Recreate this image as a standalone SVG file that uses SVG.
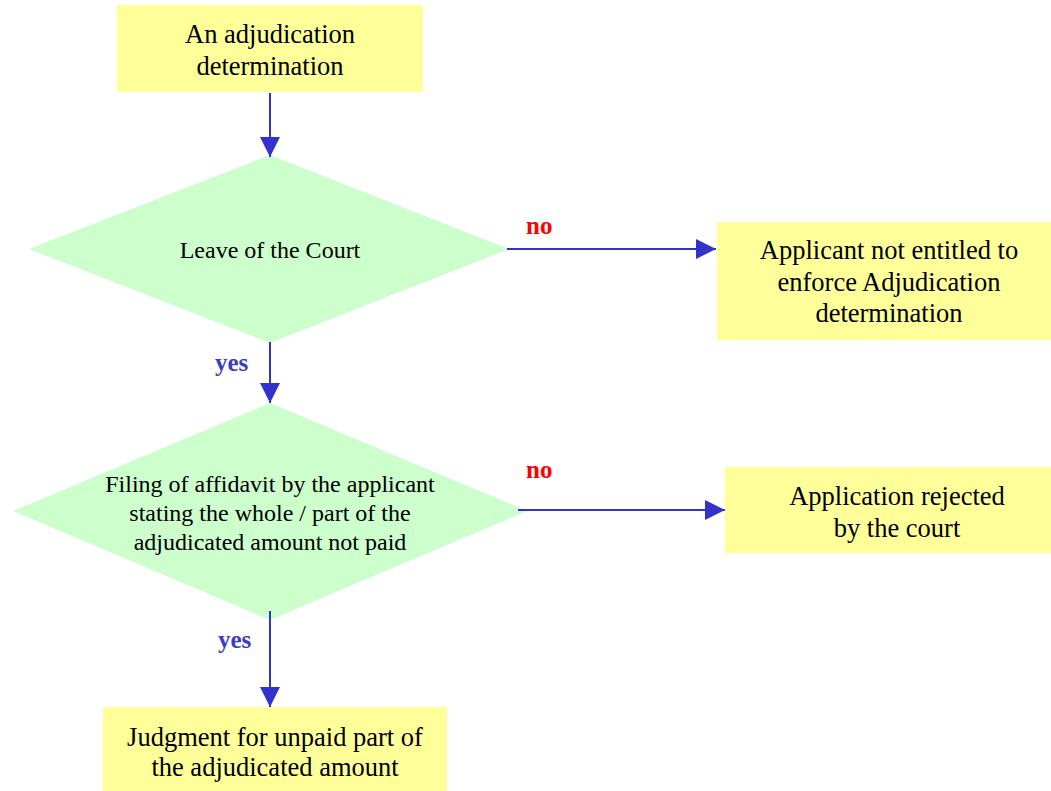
<svg xmlns="http://www.w3.org/2000/svg" width="1051" height="791" viewBox="0 0 1051 791">
  <defs>
    <style>
      .box { fill: #ffff99; }
      .decision { fill: #ccffcc; }
      .t-box { font-family: "Liberation Serif", "Times New Roman", serif; font-size: 26.5px; fill: #000; text-anchor: middle; }
      .t-dec { font-family: "Liberation Serif", "Times New Roman", serif; font-size: 24px; fill: #000; text-anchor: middle; }
      .lbl-no { font-family: "Liberation Serif", "Times New Roman", serif; font-size: 25px; font-weight: bold; fill: #ff0000; }
      .lbl-yes { font-family: "Liberation Serif", "Times New Roman", serif; font-size: 25px; font-weight: bold; fill: #3b3bcc; }
      .conn { stroke: #3333cc; stroke-width: 2; fill: none; marker-end: url(#arrow); }
    </style>
    <marker id="arrow" markerUnits="userSpaceOnUse" markerWidth="20" markerHeight="20" viewBox="0 0 20 20" refX="20" refY="10" orient="auto">
      <path d="M0,0 L20,10 L0,20 Z" fill="#3333cc"/>
    </marker>
  </defs>

  <rect width="1051" height="791" fill="#ffffff"/>

  <g id="start">
    <rect class="box" x="117" y="5" width="306" height="87"/>
    <text class="t-box" x="270" y="43">An adjudication</text>
    <text class="t-box" x="270" y="75">determination</text>
  </g>

  <g id="leave">
    <polygon class="decision" points="270,155 509,249 270,343 29,249"/>
    <text class="t-dec" x="270" y="258">Leave of the Court</text>
  </g>

  <g id="not-entitled">
    <rect class="box" x="717" y="222" width="334" height="118"/>
    <text class="t-box" x="889" y="259">Applicant not entitled to</text>
    <text class="t-box" x="889" y="291">enforce Adjudication</text>
    <text class="t-box" x="889" y="322">determination</text>
  </g>

  <g id="affidavit">
    <polygon class="decision" points="270,403 527,511 270,620 13,511"/>
    <text class="t-dec" x="270" y="492">Filing of affidavit by the applicant</text>
    <text class="t-dec" x="270" y="521">stating the whole / part of the</text>
    <text class="t-dec" x="270" y="550">adjudicated amount not paid</text>
  </g>

  <g id="rejected">
    <rect class="box" x="725" y="467" width="326" height="86"/>
    <text class="t-box" x="897" y="505">Application rejected</text>
    <text class="t-box" x="897" y="537">by the court</text>
  </g>

  <g id="judgment">
    <rect class="box" x="103" y="707" width="344" height="84"/>
    <text class="t-box" x="275" y="746">Judgment for unpaid part of</text>
    <text class="t-box" x="275" y="776">the adjudicated amount</text>
  </g>

  <g id="connectors">
    <line class="conn" x1="270" y1="93" x2="270" y2="157"/>
    <line class="conn" x1="507" y1="249" x2="716" y2="249"/>
    <text class="lbl-no" x="526" y="234">no</text>
    <line class="conn" x1="270" y1="342" x2="270" y2="403"/>
    <text class="lbl-yes" x="215" y="371">yes</text>
    <line class="conn" x1="518" y1="510" x2="725" y2="510"/>
    <text class="lbl-no" x="526" y="478">no</text>
    <line class="conn" x1="270" y1="611" x2="270" y2="707"/>
    <text class="lbl-yes" x="218" y="648">yes</text>
  </g>
</svg>
